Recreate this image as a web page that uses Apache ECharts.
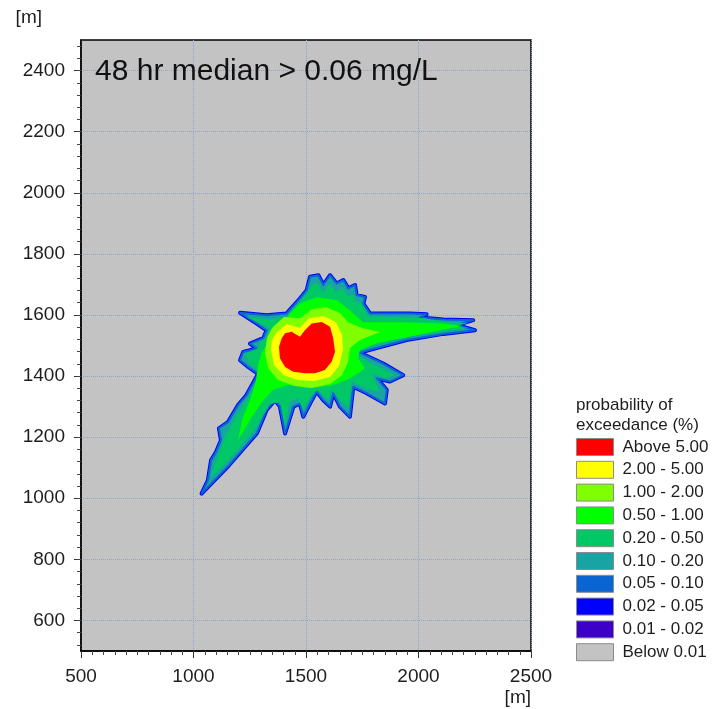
<!DOCTYPE html>
<html lang="en">
<head>
<meta charset="UTF-8">
<title>48 hr median &gt; 0.06 mg/L</title>
<script src="https://cdn.jsdelivr.net/npm/echarts@6/dist/echarts.min.js"></script>
<style>html,body{margin:0;padding:0;background:#fff}</style>
</head>
<body>
<div id="main" style="width:715px;height:709px"></div>
<script>
// legend classes, top to bottom
var levelNames = ['Above 5.00', '2.00 - 5.00', '1.00 - 2.00', '0.50 - 1.00', '0.20 - 0.50',
    '0.10 - 0.20', '0.05 - 0.10', '0.02 - 0.05', '0.01 - 0.02', 'Below 0.01'];
var levelColors = ['#ff0000', '#ffff00', '#80ff00', '#00ff00', '#00c864',
    '#19a3a3', '#0a64d2', '#0000ff', '#3c00c8', '#c3c3c3'];

// axis ticks [m]
var yTicks = [600, 800, 1000, 1200, 1400, 1600, 1800, 2000, 2200, 2400];

// contour outlines, [x m, y m]
var outerEdge = [[1207,1607],[1325,1599],[1414,1605],[1473,1654],[1503,1681],[1518,1725],[1555,1730],[1577,1698],
    [1607,1730],[1636,1703],[1666,1714],[1688,1687],[1718,1698],[1725,1665],[1762,1659],[1755,1637],[1784,1605],
    [1873,1605],[1962,1605],[2036,1602],[2007,1592],[2110,1585],[2243,1583],[2170,1567],[2251,1550],[2110,1538],
    [1947,1518],[1784,1486],[1740,1476],[1843,1441],[1932,1403],[1873,1382],[1814,1393],[1859,1355],[1851,1310],
    [1770,1344],[1710,1365],[1695,1267],[1651,1300],[1621,1344],[1607,1300],[1577,1321],[1547,1349],[1518,1310],
    [1488,1267],[1473,1310],[1444,1300],[1407,1212],[1384,1300],[1362,1321],[1325,1289],[1282,1213],[1158,1108],
    [1036,1015],[1064,1059],[1078,1124],[1100,1151],[1122,1190],[1113,1229],[1153,1249],[1198,1305],[1233,1335],
    [1260,1371],[1287,1407],[1243,1430],[1207,1452],[1221,1479],[1281,1490],[1251,1506],[1310,1524],[1325,1550],
    [1281,1572]];
var edge020 = [[1233,1593],[1331,1586],[1420,1593],[1464,1635],[1500,1667],[1531,1701],[1553,1704],[1575,1674],
    [1607,1701],[1633,1677],[1664,1688],[1687,1661],[1713,1667],[1718,1645],[1749,1638],[1775,1596],[1918,1593],
    [2029,1589],[2118,1576],[2220,1573],[2162,1564],[2220,1557],[2118,1547],[1940,1527],[1775,1494],[1718,1472],
    [1807,1436],[1895,1403],[1851,1394],[1793,1407],[1829,1347],[1762,1361],[1704,1381],[1687,1295],[1642,1328],
    [1615,1355],[1598,1321],[1553,1355],[1518,1331],[1487,1289],[1464,1328],[1429,1315],[1407,1239],[1384,1315],
    [1340,1308],[1268,1220],[1150,1120],[1078,1068],[1094,1112],[1120,1160],[1138,1199],[1184,1262],[1242,1328],
    [1287,1381],[1304,1413],[1251,1439],[1229,1472],[1287,1491],[1295,1511],[1327,1525],[1336,1557],[1287,1576]];
var edge050 = [[1429,1606],[1473,1638],[1549,1658],[1638,1648],[1695,1615],[1753,1576],[1918,1576],[2095,1573],
    [2198,1564],[2095,1551],[2020,1538],[1895,1520],[1815,1507],[1740,1486],[1731,1459],[1762,1426],[1740,1413],
    [1682,1387],[1607,1368],[1504,1361],[1420,1371],[1353,1355],[1304,1315],[1251,1256],[1198,1190],[1216,1256],
    [1251,1321],[1278,1387],[1287,1436],[1304,1478],[1340,1518],[1384,1560]];
var edge100 = [[1349,1557],[1402,1593],[1473,1589],[1527,1619],[1589,1625],[1651,1606],[1687,1576],[1749,1557],
    [1829,1544],[1740,1518],[1695,1491],[1687,1446],[1660,1403],[1607,1374],[1527,1361],[1447,1368],[1375,1387],
    [1331,1426],[1318,1478],[1327,1525]];
var edge200 = [[1371,1544],[1415,1570],[1473,1557],[1513,1589],[1580,1596],[1633,1576],[1660,1534],[1664,1486],
    [1647,1433],[1607,1397],[1535,1384],[1464,1387],[1402,1403],[1358,1436],[1344,1486],[1349,1518]];
var edge500 = [[1407,1540],[1436,1545],[1473,1529],[1495,1550],[1525,1572],[1570,1577],[1607,1561],[1621,1524],
    [1629,1479],[1614,1447],[1584,1420],[1540,1409],[1495,1409],[1443,1414],[1407,1430],[1384,1458],[1380,1495],
    [1392,1524]];

var font = 'Arial, "Liberation Sans", sans-serif';
var textColor = '#1e1e1e';
var gridLine = {color: '#8aa6cc', type: 'dotted'};

var yMinorTicks = [];
for (var v = 520; v < 2500; v += 40) yMinorTicks.push(v);

function colorOf(name) {
    return levelColors[levelNames.indexOf(name)];
}

function plain(v) {
    return String(v);
}

// one polygon per series; fill or outline only
function contour(name, pts, lineWidth) {
    var c = colorOf(name);
    return {
        name: name,
        type: 'custom',
        silent: true,
        animation: false,
        itemStyle: {color: c},
        data: pts,
        renderItem: function (params, api) {
            if (params.dataIndex !== 0) return;
            var shape = pts.map(function (p) { return api.coord(p); });
            var style = lineWidth
                ? {fill: 'none', stroke: c, lineWidth: lineWidth, lineJoin: 'round'}
                : {fill: c};
            return {type: 'polygon', shape: {points: shape}, style: style};
        }
    };
}

var chart = echarts.init(document.getElementById('main'));

var option = {
    animation: false,
    textStyle: {fontFamily: font},
    title: [{
        text: '48 hr median > 0.06 mg/L',
        left: 95, top: 57, padding: 0,
        textStyle: {fontSize: 30, lineHeight: 30, fontWeight: 'normal', color: '#111', fontFamily: font}
    }, {
        text: 'probability of\nexceedance (%)',
        left: 576, top: 395, padding: 0,
        textStyle: {fontSize: 17, lineHeight: 20, fontWeight: 'normal', color: textColor, fontFamily: font}
    }],
    legend: {
        data: levelNames,
        orient: 'vertical',
        left: 576, top: 438, padding: 0,
        itemWidth: 37, itemHeight: 17, itemGap: 4.8,
        icon: 'rect',
        selectedMode: false,
        itemStyle: {borderColor: '#8c8c8c', borderWidth: 1},
        textStyle: {fontSize: 17, lineHeight: 17, color: textColor, padding: [0, 0, 0, 4], fontFamily: font}
    },
    grid: {
        left: 81, right: 184, top: 40, bottom: 58,
        show: true, backgroundColor: '#c3c3c3', borderColor: '#000', borderWidth: 1.5
    },
    xAxis: {
        type: 'value', min: 500, max: 2500, interval: 500,
        name: '[m]', nameLocation: 'end', nameGap: 0,
        nameTextStyle: {align: 'right', verticalAlign: 'top', padding: [37, 0, 0, 0], fontSize: 19, color: textColor},
        axisLine: {lineStyle: {color: '#000', width: 1.5}},
        axisTick: {length: 7, lineStyle: {color: '#333'}},
        minorTick: {show: true, splitNumber: 10, length: 4, lineStyle: {color: '#444'}},
        axisLabel: {fontSize: 19, color: textColor, margin: 16, formatter: plain},
        splitLine: {lineStyle: gridLine}
    },
    yAxis: [{
        type: 'value', min: 500, max: 2500, interval: 100,
        name: '[m]', nameLocation: 'end', nameGap: 22,
        nameTextStyle: {align: 'right', verticalAlign: 'middle', padding: [0, 39, 0, 0], fontSize: 19, color: textColor},
        axisLine: {show: true, lineStyle: {color: '#000', width: 1.5}},
        axisTick: {show: true, length: 7, customValues: yTicks, lineStyle: {color: '#333'}},
        axisLabel: {customValues: yTicks, fontSize: 19, color: textColor, margin: 16, formatter: plain},
        splitLine: {show: true, lineStyle: gridLine}
    }, {
        type: 'value', min: 500, max: 2500, interval: 100, position: 'left',
        axisLine: {show: false},
        axisLabel: {show: false},
        splitLine: {show: false},
        axisTick: {show: true, length: 4, customValues: yMinorTicks, lineStyle: {color: '#444'}}
    }],
    series: [
        contour('0.02 - 0.05', outerEdge, 4),
        contour('0.10 - 0.20', outerEdge),
        contour('0.05 - 0.10', outerEdge, 2),
        contour('0.20 - 0.50', edge020),
        contour('0.50 - 1.00', edge050),
        contour('1.00 - 2.00', edge100),
        contour('2.00 - 5.00', edge200),
        contour('Above 5.00', edge500),
        contour('0.01 - 0.02', []),
        contour('Below 0.01', [])
    ]
};

chart.setOption(option);
</script>
</body>
</html>
